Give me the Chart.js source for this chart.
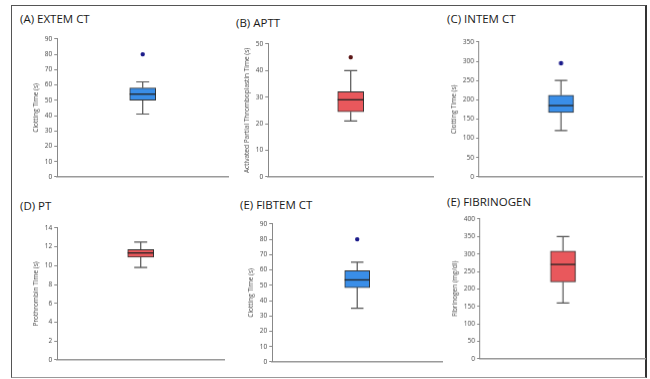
<!DOCTYPE html>
<html><head><meta charset="utf-8">
<script src="https://cdn.jsdelivr.net/npm/chart.js@4"></script>
<style>
body{margin:0;background:#fff;width:650px;height:379px;position:relative;overflow:hidden;font-family:"Open Sans",sans-serif}
#frame{position:absolute;left:11px;top:5px;width:633px;height:371px;border:1px solid #555;border-right:2px solid #333;border-bottom-color:#999;box-sizing:content-box}
.ttl{position:absolute;font-size:11.5px;color:#1a1a1a;white-space:nowrap;line-height:14px}
canvas{position:absolute}
</style></head><body><div id="frame"></div>
<script>
// ---- data ----
const categories = ['EXTEM CT','APTT','INTEM CT','PT','FIBTEM CT','FIBRINOGEN'];
const panelTitles = ['(A) EXTEM CT','(B) APTT','(C) INTEM CT','(D) PT','(E) FIBTEM CT','(E) FIBRINOGEN'];
const yTitles = ['Clotting Time (s)','Activated Partial Thromboplastin Time (s)','Clotting Time (s)','Prothrombin Time (s)','Clotting Time (s)','Fibrinogen (mg/dl)'];
const whiskerLow  = [41, 21, 120, 9.8, 35, 160];
const q1          = [50, 24.5, 167, 10.9, 48.5, 220];
const median      = [54, 29, 185, 11.35, 53.5, 270];
const q3          = [58, 32, 212, 11.7, 59.5, 308];
const whiskerHigh = [62, 40, 250, 12.5, 65, 350];
const outliers    = [80, 45, 295, null, 80, null];
const yMax  = [90, 50, 350, 14, 90, 400];
const yStep = [10, 10, 50, 2, 10, 50];

// ---- layout / style ----
const layout = [
  {ax:57,  right:228, top:39,  bottom:176, tx:20,  ty:12,  bw:26, col:'#3a8ee8', out:'#1a1a8a'},
  {ax:268, right:433, top:44,  bottom:176, tx:236, ty:16,  bw:26, col:'#e9585c', out:'#5a1414'},
  {ax:479, right:642, top:42,  bottom:176, tx:447, ty:12,  bw:25, col:'#3a8ee8', out:'#1a1a8a'},
  {ax:57,  right:224, top:228, bottom:359, tx:20,  ty:199, bw:26, col:'#e9585c', out:'#5a1414'},
  {ax:272, right:442, top:224, bottom:361, tx:240, ty:198, bw:25, col:'#3a8ee8', out:'#1a1a8a'},
  {ax:480, right:645, top:219, bottom:358, tx:447, ty:195, bw:25, col:'#e9585c', out:'#5a1414'}
];

const boxPlugin = {
  id:'boxWhiskers',
  beforeDatasetsDraw(chart, args, opts){
    const i = opts.idx, y = chart.scales.y, bar = chart.getDatasetMeta(0).data[0];
    const ctx = chart.ctx, x = bar.x, cap = bar.width*0.5;
    ctx.save(); ctx.strokeStyle='#555'; ctx.lineWidth=1.2;
    const yl=y.getPixelForValue(whiskerLow[i]), yh=y.getPixelForValue(whiskerHigh[i]);
    const y1=y.getPixelForValue(q1[i]), y3=y.getPixelForValue(q3[i]);
    ctx.beginPath();
    ctx.moveTo(x,y3); ctx.lineTo(x,yh); ctx.moveTo(x-cap/2,yh); ctx.lineTo(x+cap/2,yh);
    ctx.moveTo(x,y1); ctx.lineTo(x,yl); ctx.moveTo(x-cap/2,yl); ctx.lineTo(x+cap/2,yl);
    ctx.stroke(); ctx.restore();
  },
  afterDatasetsDraw(chart, args, opts){
    const i = opts.idx, y = chart.scales.y, bar = chart.getDatasetMeta(0).data[0];
    const ctx = chart.ctx, x = bar.x, w = bar.width;
    const ym = y.getPixelForValue(median[i]);
    ctx.save(); ctx.strokeStyle='#222'; ctx.lineWidth=1.3;
    ctx.beginPath(); ctx.moveTo(x-w/2,ym); ctx.lineTo(x+w/2,ym); ctx.stroke(); ctx.restore();
  }
};

categories.forEach((cat,i)=>{
  const L = layout[i];
  const t = document.createElement('div'); t.className='ttl'; t.textContent=panelTitles[i];
  t.style.left=L.tx+'px'; t.style.top=L.ty+'px'; document.body.appendChild(t);
  const cv = document.createElement('canvas');
  let cw = (L.right-L.ax)+50, ch = (L.bottom-L.top)+20;
  cv.width=cw; cv.height=ch; cv.style.width=cw+'px'; cv.style.height=ch+'px';
  document.body.appendChild(cv);
  const chart = new Chart(cv, {
    type:'bar',
    data:{labels:[cat], datasets:[
      {type:'bar', data:[[q1[i], q3[i]]], backgroundColor:L.col, borderColor:'#333', borderWidth:1, borderSkipped:false, barThickness:L.bw, order:2},
      {type:'line', data:[outliers[i]], showLine:false, pointRadius:2.2, pointBackgroundColor:L.out, pointBorderWidth:0, order:1}
    ]},
    options:{
      responsive:false, maintainAspectRatio:false, animation:false,
      layout:{padding:{top:4,right:2,bottom:2,left:0}},
      plugins:{legend:{display:false}, tooltip:{enabled:false}, boxWhiskers:{idx:i}},
      scales:{
        x:{type:'category', grid:{display:false, drawTicks:false}, ticks:{display:false},
           border:{display:true, color:'#9a9a9a', width:1.6}},
        y:{min:0, max:yMax[i], ticks:{stepSize:yStep[i], font:{size:6.5, family:'Open Sans'}, color:'#444', padding:2},
           grid:{drawOnChartArea:false, drawTicks:true, tickLength:3, color:'#888'},
           border:{display:true, color:'#888', width:1},
           title:{display:true, text:yTitles[i], font:{size:6.5, family:'Open Sans'}, color:'#444', padding:{top:0,bottom:3}}}
      }
    },
    plugins:[boxPlugin]
  });
  let ca = chart.chartArea;
  const nw = cw + ((L.right-L.ax) - (ca.right-ca.left));
  const nh = ch + ((L.bottom-L.top) - (ca.bottom-ca.top));
  chart.resize(nw, nh);
  ca = chart.chartArea;
  cv.style.left = (L.ax - ca.left)+'px';
  cv.style.top = (L.top - ca.top)+'px';
});
</script>
</body></html>
